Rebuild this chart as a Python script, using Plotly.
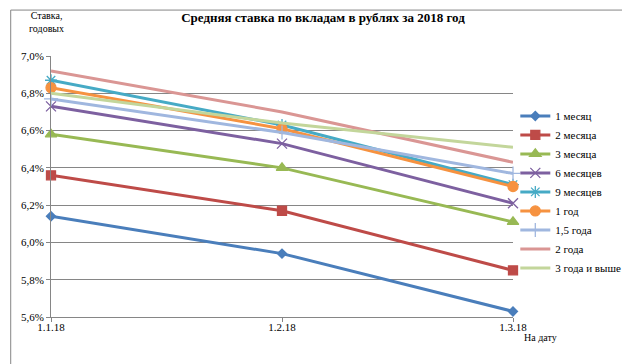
import plotly.graph_objects as go

dates = ["1.1.18", "1.2.18", "1.3.18"]
series_names = ["1 месяц", "2 месяца", "3 месяца", "6 месяцев", "9 месяцев",
                "1 год", "1,5 года", "2 года", "3 года и выше"]
m1 = [6.14, 5.94, 5.63]
m2 = [6.36, 6.17, 5.85]
m3 = [6.58, 6.40, 6.11]
m6 = [6.73, 6.53, 6.21]
m9 = [6.87, 6.63, 6.31]
y1 = [6.83, 6.61, 6.30]
y15 = [6.77, 6.59, 6.37]
y2 = [6.92, 6.70, 6.43]
y3 = [6.80, 6.64, 6.51]
values = [m1, m2, m3, m6, m9, y1, y15, y2, y3]
y_ticks = [5.6, 5.8, 6.0, 6.2, 6.4, 6.6, 6.8, 7.0]
y_ticktext = ["5,6%", "5,8%", "6,0%", "6,2%", "6,4%", "6,6%", "6,8%", "7,0%"]

colors = ["#4A7EBB", "#BE4B48", "#98B954", "#7D60A0", "#46AAC5",
          "#F69240", "#A0B7DF", "#DA9694", "#C3D69B"]
symbols = ["diamond", "square", "triangle-up", "x-thin", "asterisk",
           "circle", "cross-thin", None, None]
sizes = [7, 9, 10, 10, 10, 10, 10, 0, 0]

fig = go.Figure()
for name, vals, c, s, sz in zip(series_names, values, colors, symbols, sizes):
    if s is None:
        mode = "lines"
        marker = dict()
    else:
        mode = "lines+markers"
        marker = dict(symbol=s, size=sz, color=c, line=dict(color=c, width=1.3))
    fig.add_trace(go.Scatter(x=dates, y=vals, name=name, mode=mode,
                             line=dict(color=c, width=3), marker=marker,
                             cliponaxis=False))

font_family = "Liberation Serif, Times New Roman, serif"
fig.update_layout(
    width=630, height=364,
    margin=dict(l=43, r=117, t=48, b=55),
    paper_bgcolor="white", plot_bgcolor="white",
    font=dict(family=font_family, size=11, color="black"),
    title=dict(text="<b>Средняя ставка по вкладам в рублях за 2018 год</b>",
               x=0.5, xanchor="center", y=0.975, yanchor="middle",
               font=dict(size=13, family=font_family)),
    xaxis=dict(type="category", range=[0, 2], showgrid=False,
               showline=True, linecolor="#868686", linewidth=1,
               ticks="outside", ticklen=4, tickcolor="#868686",
               ticklabelstandoff=-4,
               tickfont=dict(size=11)),
    yaxis=dict(range=[5.6, 7.0], tickvals=y_ticks, ticktext=y_ticktext,
               showgrid=True, gridcolor="#868686", gridwidth=1,
               showline=True, linecolor="#868686", linewidth=1,
               ticks="outside", ticklen=4, tickcolor="#868686",
               zeroline=False, tickfont=dict(size=11)),
    legend=dict(x=1.005, xanchor="left", y=0.826, yanchor="top",
                font=dict(size=11, family=font_family),
                bgcolor="rgba(0,0,0,0)", itemwidth=30, tracegroupgap=0),
    showlegend=True,
)
fig.add_annotation(text="Ставка,<br>годовых", xref="paper", yref="paper",
                   x=-0.01, y=1.13, xanchor="center", yanchor="middle",
                   showarrow=False, font=dict(size=10, family=font_family))
fig.add_annotation(text="На дату", xref="paper", yref="paper",
                   x=1.06, y=-0.08, xanchor="center", yanchor="middle",
                   showarrow=False, font=dict(size=10, family=font_family))
fig.add_shape(type="rect", xref="paper", yref="paper",
              x0=-0.0872, x1=1.2404, y0=-0.1877, y1=1.176,
              line=dict(color="#868686", width=1), fillcolor="rgba(0,0,0,0)",
              layer="below")
fig.write_html("out.html")
